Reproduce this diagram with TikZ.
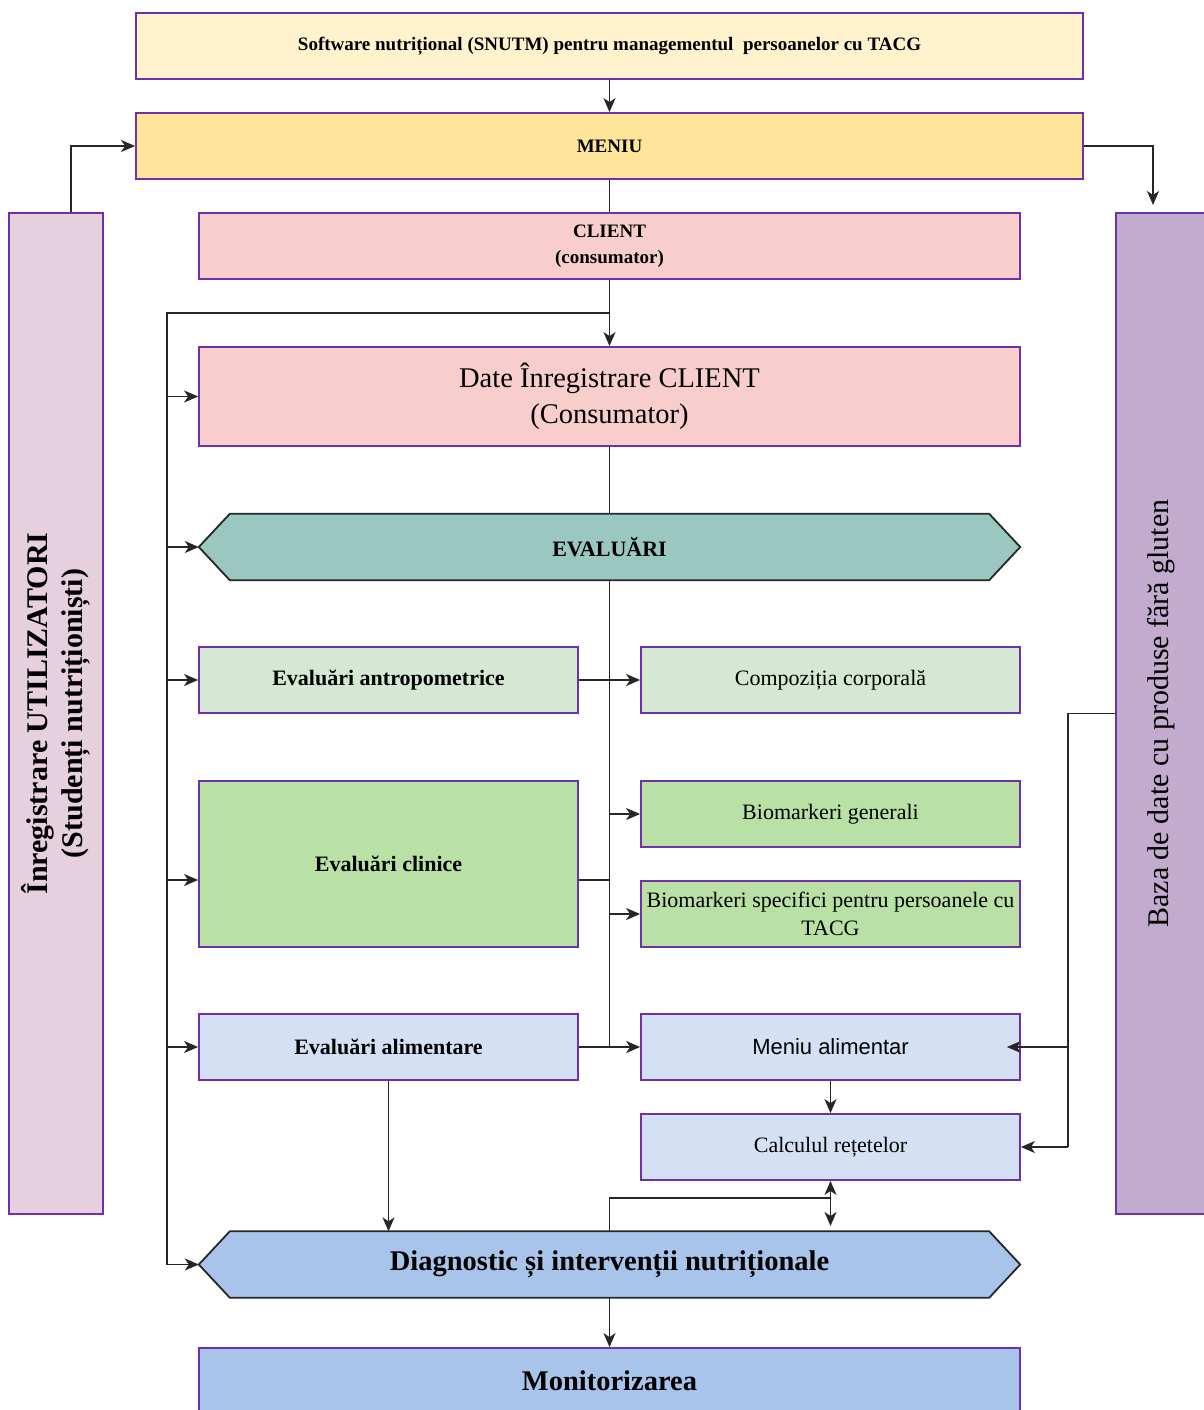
\documentclass[tikz,border=0pt]{standalone}
\usepackage{fontspec}
\setmainfont{Liberation Serif}
\newfontfamily\sansf{Liberation Sans}
\usetikzlibrary{arrows.meta}
\definecolor{boxpurple}{RGB}{112,48,170}
\definecolor{titlef}{HTML}{FFF2CC}
\definecolor{menuf}{HTML}{FFE599}
\definecolor{pinkf}{HTML}{F8CECC}
\definecolor{leftf}{HTML}{E6D0DE}
\definecolor{rightf}{HTML}{C3ABD0}
\definecolor{evalf}{HTML}{9AC7BF}
\definecolor{lgreenf}{HTML}{D5E8D4}
\definecolor{greenf}{HTML}{B9E0A5}
\definecolor{lbluef}{HTML}{D4E1F5}
\definecolor{bluef}{HTML}{A9C4EB}
\begin{document}
\begin{tikzpicture}[x=1pt,y=-1pt,
  box/.style={draw=boxpurple, line width=1.8pt, inner sep=1pt, align=center},
  wide/.style={minimum width=821pt, minimum height=66pt},
  half/.style={minimum width=379pt, minimum height=66pt},
  hexline/.style={draw=black!85, line width=1.8pt},
  conn/.style={line width=1.5pt, draw=black!85},
  arr/.style={conn, -{Stealth[length=14pt,width=12pt,inset=4pt]}},
  darr/.style={conn, {Stealth[length=14pt,width=12pt,inset=4pt]}-{Stealth[length=14pt,width=12pt,inset=4pt]}},
  fsmall/.style={font=\bfseries\fontsize{19}{26}\selectfont},
  fmid/.style={font=\fontsize{22}{28}\selectfont},
  fmidb/.style={font=\bfseries\fontsize{22}{28}\selectfont},
  fbig/.style={font=\bfseries\fontsize{28.5}{34}\selectfont},
]
\useasboundingbox (0,0) rectangle (1203,1410);

% top boxes
\node[box, fill=titlef, minimum width=947pt, minimum height=66pt, fsmall] (title) at (609.5,46) {Software nutrițional (SNUTM) pentru managementul\ \ persoanelor cu TACG};
\node[box, fill=menuf, minimum width=947pt, minimum height=66pt, fsmall] (menu) at (609.5,146) {MENIU};

% side boxes
\node[box, fill=leftf, minimum width=94pt, minimum height=1001pt] (lbox) at (56,713.5) {};
\node[rotate=90, align=center, font=\bfseries\fontsize{30}{35}\selectfont] at (lbox.center) {Înregistrare UTILIZATORI\\(Studenți nutriționiști)};
\node[box, fill=rightf, minimum width=90pt, minimum height=1001pt] (rbox) at (1161,713.5) {};
\node[rotate=90, align=center, font=\fontsize{30}{35}\selectfont] at (rbox.center) {Baza de date cu produse fără gluten};

% client
\node[box, fill=pinkf, wide, fsmall] (client) at (609.5,246) {CLIENT\\(consumator)};
\node[box, fill=pinkf, minimum width=821pt, minimum height=99pt, font=\fontsize{28.5}{36}\selectfont] (date) at (609.5,396.5) {Date Înregistrare CLIENT\\(Consumator)};

% evaluari hexagon
\node[wide] (eval) at (609.5,547) {};
\filldraw[hexline, fill=evalf] (eval.west) -- ([xshift=31pt]eval.north west) -- ([xshift=-31pt]eval.north east) -- (eval.east) -- ([xshift=-31pt]eval.south east) -- ([xshift=31pt]eval.south west) -- cycle;
\node[fmidb] at (eval.center) {EVALUĂRI};

% evaluation rows
\node[box, fill=lgreenf, half, fmidb] (antrop) at (388.5,680) {Evaluări antropometrice};
\node[box, fill=lgreenf, half, fmid] (compoz) at (830.5,680) {Compoziția corporală};
\node[box, fill=greenf, minimum width=379pt, minimum height=166pt, fmidb] (clin) at (388.5,864) {Evaluări clinice};
\node[box, fill=greenf, half, fmid] (bgen) at (830.5,814) {Biomarkeri generali};
\node[box, fill=greenf, half, fmid] (bspec) at (830.5,914) {Biomarkeri specifici pentru persoanele cu\\TACG};
\node[box, fill=lbluef, half, fmidb] (alim) at (388.5,1047) {Evaluări alimentare};
\node[box, fill=lbluef, half, font=\sansf\fontsize{22}{26}\selectfont] (menal) at (830.5,1047) {Meniu alimentar};
\node[box, fill=lbluef, half, fmid] (calc) at (830.5,1147) {Calculul rețetelor};

% diagnostic hexagon
\node[wide] (diag) at (609.5,1264.5) {};
\filldraw[hexline, fill=bluef] (diag.west) -- ([xshift=31pt]diag.north west) -- ([xshift=-31pt]diag.north east) -- (diag.east) -- ([xshift=-31pt]diag.south east) -- ([xshift=31pt]diag.south west) -- cycle;
\node[fbig] at (diag.center) {Diagnostic și intervenții nutriționale};

\node[box, fill=bluef, wide, fbig] (mon) at (609.5,1381) {Monitorizarea};

% coordinates
\coordinate (dbin) at (1153,205);
\coordinate (j1) at (609.5,313);
\coordinate (busbot) at (167,1264.5);
\coordinate (dbj) at (1068,713.5);
\coordinate (fb) at (830.5,1198);
\coordinate (fbend) at (830.5,1226);

% connectors
\draw[arr] (title.south) -- (menu.north);
\draw[arr] ([xshift=15pt]lbox.north) |- (menu.west);
\draw[arr] (menu.east) -| (dbin);
\draw[conn] (menu.south) -- (client.north);
\draw[arr] (client.south) -- (date.north);
\draw[conn] (j1) -| (busbot);
\draw[arr] (busbot |- date.west) -- (date.west);
\draw[arr] (busbot |- eval.west) -- (eval.west);
\draw[arr] (busbot |- antrop.west) -- (antrop.west);
\draw[arr] (busbot |- 0,880) -- (clin.west |- 0,880);
\draw[arr] (busbot |- alim.west) -- (alim.west);
\draw[arr] (busbot) -- (diag.west);
\draw[conn] (date.south) -- (eval.north);
\draw[conn] (eval.south) -- (eval.south |- alim.east);
\draw[arr] (antrop.east) -- (compoz.west);
\draw[conn] (clin.east |- 0,880) -- (eval.south |- 0,880);
\draw[arr] (eval.south |- bgen.west) -- (bgen.west);
\draw[arr] (eval.south |- bspec.west) -- (bspec.west);
\draw[arr] (alim.east) -- (menal.west);
\draw[arr] (menal.south) -- (calc.north);
\draw[conn] (rbox.west) -| (dbj |- calc.east);
\draw[arr] (dbj |- menal.east) -- ([xshift=-14pt]menal.east);
\draw[arr] (dbj |- calc.east) -- (calc.east);
\draw[arr] (alim.south) -- (alim.south |- diag.north);
\draw[conn] (diag.north) |- (fb);
\draw[darr] (calc.south) -- (fbend);
\draw[arr] (diag.south) -- (mon.north);
\end{tikzpicture}
\end{document}
